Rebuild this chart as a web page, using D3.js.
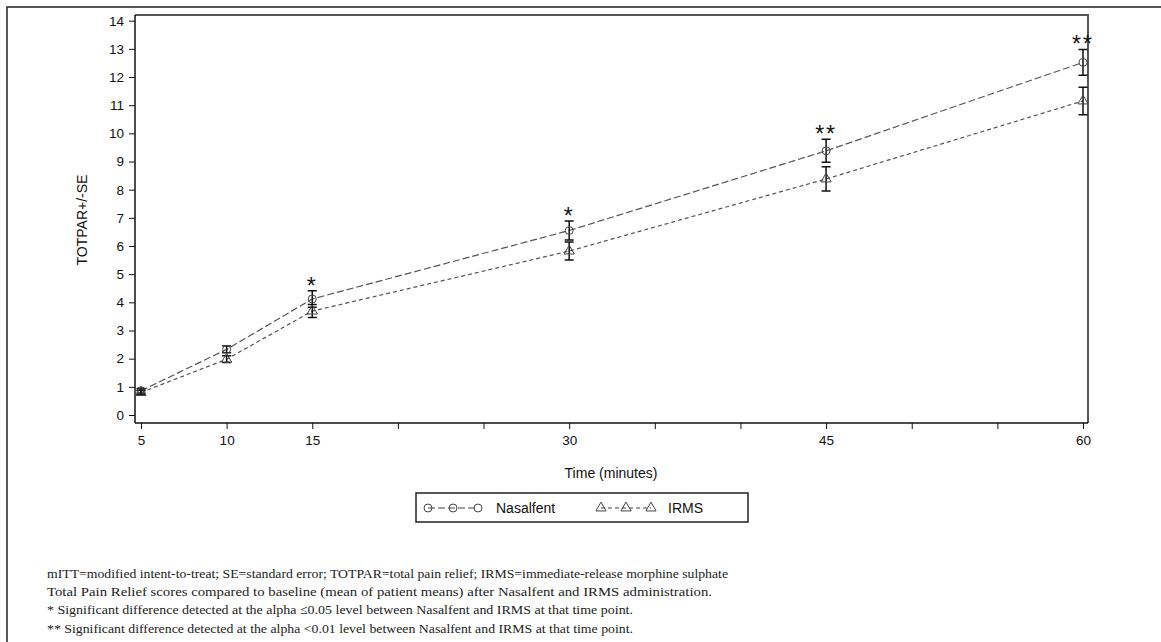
<!DOCTYPE html>
<html>
<head>
<meta charset="utf-8" />
<script src="https://cdnjs.cloudflare.com/ajax/libs/d3/7.8.5/d3.min.js"></script>
<style>
body { margin: 0; background: #fff; }
svg { display: block; }
.tick text { font-family: "Liberation Sans", Arial, sans-serif; font-size: 13.5px; fill: #111; }
.note { font-family: "Liberation Serif", "Times New Roman", serif; font-size: 13px; fill: #222; }
.lbl { font-family: "Liberation Sans", Arial, sans-serif; font-size: 14px; fill: #111; }
</style>
</head>
<body>
<svg id="chart" width="1161" height="642"></svg>
<script>
// values
var times = [5, 10, 15, 30, 45, 60];
var nasalfent = [0.86, 2.33, 4.12, 6.55, 9.38, 12.52];
var nasalfentSE = [0.08, 0.12, 0.29, 0.34, 0.41, 0.46];
var irms = [0.80, 1.98, 3.69, 5.82, 8.38, 11.15];
var irmsSE = [0.08, 0.12, 0.23, 0.32, 0.43, 0.49];
var signif = ["", "", "*", "*", "**", "**"];
var xTicks = [5, 10, 15, 20, 25, 30, 35, 40, 45, 50, 55, 60];
var xLabels = [5, 10, 15, 30, 45, 60];
var yTicks = d3.range(0, 15);
var footnotes = [
  "mITT=modified intent-to-treat; SE=standard error; TOTPAR=total pain relief; IRMS=immediate-release morphine sulphate",
  "Total Pain Relief scores compared to baseline (mean of patient means) after Nasalfent and IRMS administration.",
  "* Significant difference detected at the alpha \u22640.05 level between Nasalfent and IRMS at that time point.",
  "** Significant difference detected at the alpha <0.01 level between Nasalfent and IRMS at that time point."
];

var svg = d3.select("#chart");
var plotL = 135, plotR = 1088, plotT = 15, plotB = 423;

var x = d3.scaleLinear().domain([5, 60]).range([141, 1083]);
var y = d3.scaleLinear().domain([0, 14]).range([415, 20.7]);

// outer frame
svg.append("path").attr("d", "M7,642V7H1161").attr("fill", "none").attr("stroke", "#222").attr("stroke-width", 1.5);

// plot frame top/right
svg.append("path").attr("d", "M" + plotL + "," + plotT + "H" + plotR + "V" + plotB)
  .attr("fill", "none").attr("stroke", "#555").attr("stroke-width", 2);

// axes
var xAxis = d3.axisBottom(x).tickValues(xTicks).tickSize(6).tickPadding(6)
  .tickFormat(function(d) { return xLabels.indexOf(d) >= 0 ? d : ""; });
var gx = svg.append("g").attr("transform", "translate(0," + plotB + ")").call(xAxis);
gx.select(".domain").attr("d", "M" + plotL + ",0H" + plotR).attr("stroke", "#111").attr("stroke-width", 1.5);
gx.selectAll(".tick line").attr("stroke", "#111");

var yAxis = d3.axisLeft(y).tickValues(yTicks).tickSize(6).tickPadding(5);
var gy = svg.append("g").attr("transform", "translate(" + plotL + ",0)").call(yAxis);
gy.select(".domain").attr("d", "M0," + plotT + "V" + plotB).attr("stroke", "#111").attr("stroke-width", 1.5);
gy.selectAll(".tick line").attr("stroke", "#111");

// axis titles
svg.append("text").attr("class", "lbl").attr("x", 611).attr("y", 478).attr("text-anchor", "middle")
  .text("Time (minutes)");
svg.append("text").attr("class", "lbl").attr("transform", "translate(87,220) rotate(-90)").attr("text-anchor", "middle")
  .text("TOTPAR+/-SE");

var series = [
  { name: "Nasalfent", vals: nasalfent, se: nasalfentSE, dash: "7,3", sym: d3.symbolCircle },
  { name: "IRMS", vals: irms, se: irmsSE, dash: "4,3", sym: d3.symbolTriangle }
];

var line = d3.line().x(function(d) { return x(d[0]); }).y(function(d) { return y(d[1]); });

series.forEach(function(s) {
  var pts = times.map(function(t, i) { return [t, s.vals[i], s.se[i]]; });
  svg.append("path").attr("d", line(pts)).attr("fill", "none")
    .attr("stroke", "#555").attr("stroke-width", 1.2).attr("stroke-dasharray", s.dash);

  // error bars
  pts.forEach(function(p) {
    var cx = x(p[0]), y1 = y(p[1] + p[2]), y2 = y(p[1] - p[2]);
    svg.append("path").attr("d",
      "M" + (cx - 4.5) + "," + y1 + "H" + (cx + 4.5) +
      "M" + cx + "," + y1 + "V" + y2 +
      "M" + (cx - 4.5) + "," + y2 + "H" + (cx + 4.5))
      .attr("fill", "none").attr("stroke", "#111").attr("stroke-width", 1.5);
  });

  svg.append("g").selectAll("path").data(pts).join("path")
    .attr("transform", function(d) { return "translate(" + x(d[0]) + "," + y(d[1]) + ")"; })
    .attr("d", d3.symbol().type(s.sym).size(s.sym === d3.symbolCircle ? 50 : 45))
    .attr("fill", "none").attr("stroke", "#444").attr("stroke-width", 1);
});

// significance stars
svg.append("g").selectAll("text").data(times).join("text")
  .attr("x", function(d) { return x(d); })
  .attr("y", function(d, i) { return y(nasalfent[i] + nasalfentSE[i]) + 3; })
  .attr("text-anchor", "middle")
  .style("font-family", "'Liberation Sans', Arial, sans-serif").style("font-size", "23px")
  .style("letter-spacing", "2px").attr("fill", "#111")
  .text(function(d, i) { return signif[i]; });

// legend
var lg = svg.append("g");
lg.append("rect").attr("x", 416).attr("y", 493).attr("width", 332).attr("height", 29)
  .attr("fill", "none").attr("stroke", "#222").attr("stroke-width", 1.5);
var legendItems = [
  { s: series[0], x0: 428, tx: 496 },
  { s: series[1], x0: 601, tx: 668 }
];
legendItems.forEach(function(it) {
  lg.append("path").attr("d", "M" + it.x0 + ",508H" + (it.x0 + 50))
    .attr("stroke", "#444").attr("stroke-width", 1.1).attr("stroke-dasharray", it.s.dash);
  [0, 25, 50].forEach(function(dx) {
    lg.append("path").attr("transform", "translate(" + (it.x0 + dx) + ",508)")
      .attr("d", d3.symbol().type(it.s.sym).size(it.s.sym === d3.symbolCircle ? 50 : 45))
      .attr("fill", "none").attr("stroke", "#444").attr("stroke-width", 1);
  });
  lg.append("text").attr("class", "lbl").attr("x", it.tx).attr("y", 513)
    .text(it.s.name);
});

// footnotes
var noteEnds = [728, 712, 633, 633];
svg.append("g").selectAll("text").data(footnotes).join("text")
  .attr("class", "note")
  .attr("x", 47)
  .attr("y", function(d, i) { return 578 + i * 18.2; })
  .attr("textLength", function(d, i) { return noteEnds[i] - 47; })
  .attr("lengthAdjust", "spacingAndGlyphs")
  .text(function(d) { return d; });
</script>
</body>
</html>
